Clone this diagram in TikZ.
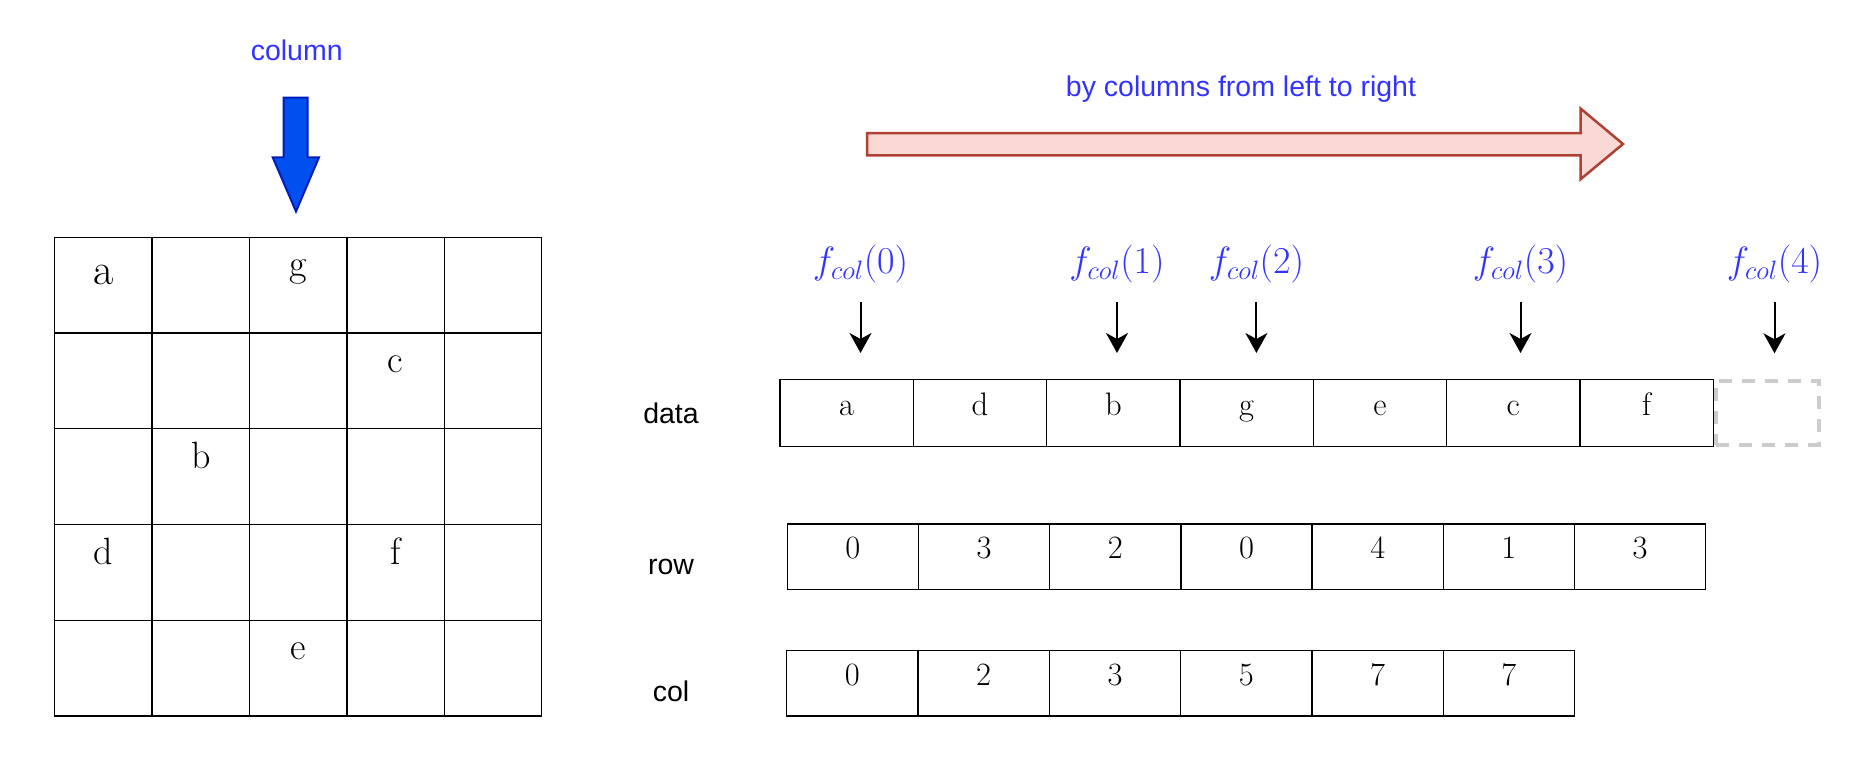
\RequirePackage{fix-cm}
\documentclass[tikz,border=0pt]{standalone}
\usepackage{fontspec}
\setsansfont{Liberation Sans}
\usetikzlibrary{arrows.meta}
\definecolor{lblue}{HTML}{3333FF}
\definecolor{bfill}{HTML}{0050EF}
\definecolor{bline}{HTML}{001DBC}
\definecolor{rfill}{HTML}{FAD9D5}
\definecolor{rline}{HTML}{AE4132}
\definecolor{dgray}{HTML}{CCCCCC}
\begin{document}
\begin{tikzpicture}[x=1pt,y=-1pt,
  gcell/.style={draw=black, line width=1.3pt, minimum width=97.4pt, minimum height=95.75pt, inner sep=0pt, outer sep=0pt},
  dcell/.style={draw=black, line width=1.3pt, minimum width=133.33pt, minimum height=67pt, inner sep=0pt, outer sep=0pt},
  rcell/.style={draw=black, line width=1.3pt, minimum width=131.2pt, minimum height=65.3pt, inner sep=0pt, outer sep=0pt},
  ccell/.style={draw=black, line width=1.3pt, minimum width=131.3pt, minimum height=65.3pt, inner sep=0pt, outer sep=0pt},
  dashbox/.style={draw=dgray, line width=4pt, dash pattern=on 13pt off 10pt, minimum width=102.7pt, minimum height=63.7pt, inner sep=0pt, outer sep=0pt},
  txt/.style={inner sep=0pt, anchor=base},
  glet/.style={txt, font=\fontsize{38}{44}\selectfont},
  bigglet/.style={txt, font=\fontsize{44}{50}\selectfont},
  dlet/.style={txt, font=\fontsize{32.5}{38}\selectfont},
  lab/.style={txt, font=\sffamily\fontsize{28.5}{34}\selectfont},
  bluelab/.style={lab, text=lblue},
  fcol/.style={inner sep=0pt, outer sep=0pt, text=lblue, font=\fontsize{38}{44}\selectfont},
  farrow/.style={draw=black, line width=2pt, -{Stealth[length=20pt,width=22pt,inset=6pt]}, shorten <=19pt}
]
\useasboundingbox (0,0) rectangle (1856,784);

% ---- left: column label and blue block arrow
\node[bluelab] (coltitle) at (296.7,60.7) {column};
\draw[fill=bfill, draw=bline, line width=2pt, line join=miter]
  (283.7,97.7) -- (307.7,97.7) -- (307.7,157.3) -- (319,157.3) -- (296,211.5)
  -- (272.7,157.3) -- (283.7,157.3) -- cycle;

% ---- left: 5x5 grid
\foreach \r in {0,...,4}{
  \foreach \c in {0,...,4}{
    \node[gcell] (g\r\c) at ({54.7+97.4*(\c+0.5)},{237.3+95.75*(\r+0.5)}) {};
  }
}
\node[bigglet] (ga) at (103.4,284) {a};
\node[glet] (gg) at (298.2,276.8) {g};
\node[glet] (gc) at (395.6,372.5) {c};
\node[glet] (gb) at (200.8,468.3) {b};
\node[glet] (gd) at (103.4,564.05) {d};
\node[glet] (gf) at (395.6,564.05) {f};
\node[glet] (ge) at (298.2,659.8) {e};

% ---- right: title and red block arrow
\node[bluelab] (rtitle) at (1241,96) {by columns from left to right};
\draw[fill=rfill, draw=rline, line width=2.5pt, line join=miter]
  (867.2,133) -- (1580.5,133) -- (1580.5,108.5) -- (1623,144) -- (1580.5,179.3)
  -- (1580.5,155.4) -- (867.2,155.4) -- cycle;

% ---- row labels
\node[lab] (ldata) at (671,423.3) {data};
\node[lab] (lrow) at (671,574.3) {row};
\node[lab] (lcol) at (671,701.7) {col};

% ---- data array
\node[dashbox] (dx) at (1767.65,412.85) {};
\foreach \l [count=\i from 0] in {a,d,b,g,e,c,f}{
  \node[dcell] (d\i) at ({780+133.33*(\i+0.5)},413) {};
  \node[dlet] (dl\i) at ({780+133.33*(\i+0.5)},415) {\l};
}

% ---- row array
\foreach \l [count=\i from 0] in {0,3,2,0,4,1,3}{
  \node[rcell] (r\i) at ({787.3+131.2*(\i+0.5)},556.65) {};
  \node[dlet] (rl\i) at ({787.3+131.2*(\i+0.5)},558.3) {\l};
}

% ---- col array
\foreach \l [count=\i from 0] in {0,2,3,5,7,7}{
  \node[ccell] (c\i) at ({786.7+131.3*(\i+0.5)},683.35) {};
  \node[dlet] (cl\i) at ({786.7+131.3*(\i+0.5)},685) {\l};
}

% ---- f_col pointers
\node[fcol] (f0) at (860.5,264) {$f_{col}(0)$};
\node[fcol] (f1) at (1117,264) {$f_{col}(1)$};
\node[fcol] (f2) at (1256.4,264) {$f_{col}(2)$};
\node[fcol] (f3) at (1520.5,264) {$f_{col}(3)$};
\node[fcol] (f4) at (1774.5,264) {$f_{col}(4)$};

\draw[farrow, shorten >=26.5pt] (f0.south) -- (f0.south |- d0.north);
\draw[farrow, shorten >=26.5pt] (f1.south) -- (f1.south |- d2.north);
\draw[farrow, shorten >=26.5pt] (f2.south) -- (f2.south |- d3.north);
\draw[farrow, shorten >=26.5pt] (f3.south) -- (f3.south |- d5.north);
\draw[farrow, shorten >=27.7pt] (f4.south) -- (f4.south |- dx.north);
\end{tikzpicture}
\end{document}
